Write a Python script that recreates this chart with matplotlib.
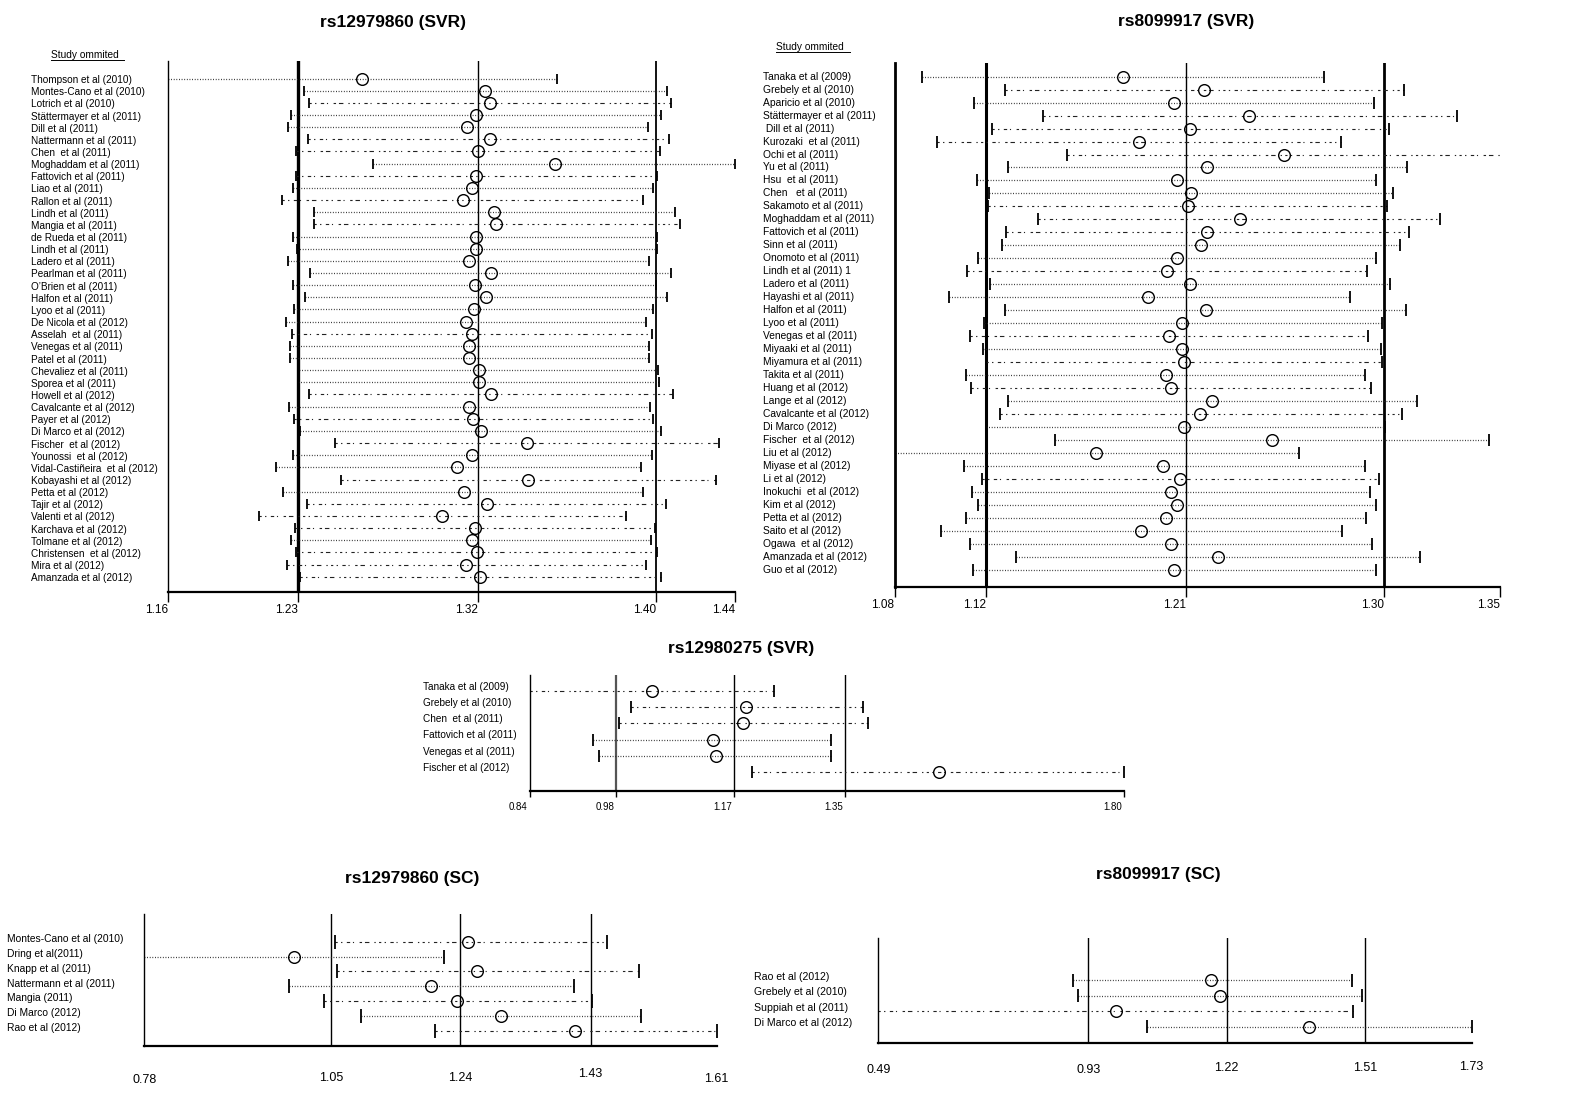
import matplotlib
matplotlib.use('Agg')
import matplotlib.pyplot as plt
import matplotlib.transforms as mtransforms
from matplotlib.lines import Line2D

W, H = 1587, 1102
plt.rcParams['font.family'] = ['Liberation Sans', 'DejaVu Sans']

# ---------------- data: rs12979860 (SVR) ----------------
TL_STUDIES = ["Thompson et al (2010)", "Montes-Cano et al (2010)", "Lotrich et al (2010)",
              "Stättermayer et al (2011)", "Dill et al (2011)", "Nattermann et al (2011)",
              "Chen  et al (2011)", "Moghaddam et al (2011)", "Fattovich et al (2011)",
              "Liao et al (2011)", "Rallon et al (2011)", "Lindh et al (2011)",
              "Mangia et al (2011)", "de Rueda et al (2011)", "Lindh et al (2011)",
              "Ladero et al (2011)", "Pearlman et al (2011)", "O’Brien et al (2011)",
              "Halfon et al (2011)", "Lyoo et al (2011)", "De Nicola et al (2012)",
              "Asselah  et al (2011)", "Venegas et al (2011)", "Patel et al (2011)",
              "Chevaliez et al (2011)", "Sporea et al (2011)", "Howell et al (2012)",
              "Cavalcante et al (2012)", "Payer et al (2012)", "Di Marco et al (2012)",
              "Fischer  et al (2012)", "Younossi  et al (2012)", "Vidal-Castiñeira  et al (2012)",
              "Kobayashi et al (2012)", "Petta et al (2012)", "Tajir et al (2012)",
              "Valenti et al (2012)", "Karchava et al (2012)", "Tolmane et al (2012)",
              "Christensen  et al (2012)", "Mira et al (2012)", "Amanzada et al (2012)"]
TL_LOWER = [1.155, 1.2268, 1.2296, 1.2205, 1.2191, 1.2292, 1.2229, 1.2612, 1.2231, 1.2215,
            1.2159, 1.2317, 1.2317, 1.2215, 1.2233, 1.2191, 1.2301, 1.2215, 1.2275, 1.2222,
            1.2182, 1.2210, 1.2201, 1.2201, 1.2243, 1.2240, 1.2294, 1.2196, 1.2219, 1.2252,
            1.2425, 1.2215, 1.2133, 1.2451, 1.2168, 1.2287, 1.2049, 1.2224, 1.2208, 1.2231,
            1.2187, 1.2252]
TL_OR = [1.2556, 1.3163, 1.3189, 1.3119, 1.3077, 1.3187, 1.3131, 1.3507, 1.3121, 1.3098,
         1.3056, 1.3206, 1.3217, 1.3117, 1.3121, 1.3084, 1.3192, 1.3114, 1.3168, 1.3107,
         1.3072, 1.3098, 1.3086, 1.3086, 1.3133, 1.3133, 1.3192, 1.3086, 1.3105, 1.3142,
         1.3369, 1.3100, 1.3026, 1.3376, 1.3061, 1.3173, 1.2951, 1.3114, 1.3098, 1.3124,
         1.3072, 1.3138]
TL_UPPER = [1.3519, 1.4063, 1.4082, 1.4033, 1.3967, 1.4073, 1.4030, 1.4400, 1.4014, 1.3991,
            1.3944, 1.4101, 1.4124, 1.4014, 1.4014, 1.3972, 1.4082, 1.4009, 1.4063, 1.3995,
            1.3960, 1.3986, 1.3972, 1.3974, 1.4016, 1.4021, 1.4094, 1.3979, 1.3995, 1.4033,
            1.4318, 1.3986, 1.3935, 1.4302, 1.3944, 1.4059, 1.3860, 1.4002, 1.3984, 1.4014,
            1.3960, 1.4033]
TL_POOLED = [1.2240, 1.3131, 1.4009]
TL_TICKS = [1.16, 1.2240, 1.3131, 1.4009, 1.44]
TL_TICKLABELS = ["1.16", "1.23", "1.32", "1.40", "1.44"]
TL_LINESTYLE = "oo-oo--o-o" "-o-ooooooo" "o-oooo-o-o" "-oo-o---o-" "--"

# ---------------- data: rs8099917 (SVR) ----------------
TR_STUDIES = ["Tanaka et al (2009)", "Grebely et al (2010)", "Aparicio et al (2010)",
              "Stättermayer et al (2011)", " Dill et al (2011)", "Kurozaki  et al (2011)",
              "Ochi et al (2011)", "Yu et al (2011)", "Hsu  et al (2011)", "Chen   et al (2011)",
              "Sakamoto et al (2011)", "Moghaddam et al (2011)", "Fattovich et al (2011)",
              "Sinn et al (2011)", "Onomoto et al (2011)", "Lindh et al (2011) 1",
              "Ladero et al (2011)", "Hayashi et al (2011)", "Halfon et al (2011)",
              "Lyoo et al (2011)", "Venegas et al (2011)", "Miyaaki et al (2011)",
              "Miyamura et al (2011)", "Takita et al (2011)", "Huang et al (2012)",
              "Lange et al (2012)", "Cavalcante et al (2012)", "Di Marco (2012)",
              "Fischer  et al (2012)", "Liu et al (2012)", "Miyase et al (2012)",
              "Li et al (2012)", "Inokuchi  et al (2012)", "Kim et al (2012)",
              "Petta et al (2012)", "Saito et al (2012)", "Ogawa  et al (2012)",
              "Amanzada et al (2012)", "Guo et al (2012)"]
TR_LOWER = [1.0923, 1.1291, 1.1155, 1.1463, 1.1236, 1.0989, 1.1568, 1.1306, 1.1170, 1.1221,
            1.1215, 1.1442, 1.1295, 1.1280, 1.1174, 1.1123, 1.1225, 1.1042, 1.1293, 1.1200,
            1.1136, 1.1195, 1.1206, 1.1119, 1.1142, 1.1304, 1.1272, 1.1206, 1.1516, 1.075,
            1.1110, 1.1189, 1.1144, 1.1172, 1.1121, 1.1008, 1.1136, 1.1340, 1.1151]
TR_OR = [1.1818, 1.2178, 1.2048, 1.2382, 1.2118, 1.1889, 1.2535, 1.2193, 1.2059, 1.2122,
         1.2107, 1.2339, 1.2193, 1.2165, 1.2059, 1.2016, 1.2118, 1.1931, 1.2188, 1.2084,
         1.2022, 1.2084, 1.2090, 1.2010, 1.2033, 1.2216, 1.2163, 1.2090, 1.2484, 1.1699,
         1.1999, 1.2073, 1.2031, 1.2059, 1.2010, 1.1901, 1.2031, 1.2244, 1.2048]
TR_UPPER = [1.2716, 1.3071, 1.2939, 1.3309, 1.3007, 1.2790, 1.3550, 1.3085, 1.2949, 1.3024,
            1.2996, 1.3232, 1.3092, 1.3056, 1.2949, 1.2905, 1.3011, 1.2830, 1.3083, 1.2975,
            1.2913, 1.2971, 1.2973, 1.2900, 1.2926, 1.3130, 1.3062, 1.2986, 1.3453, 1.2605,
            1.2900, 1.2962, 1.2920, 1.2949, 1.2903, 1.2794, 1.2928, 1.3145, 1.2947]
TR_POOLED = [1.1210, 1.2099, 1.2981]
TR_TICKS = [1.08, 1.1210, 1.2099, 1.2981, 1.35]
TR_TICKLABELS = ["1.08", "1.12", "1.21", "1.30", "1.35"]
TR_LINESTYLE = "o-o----ooo" "---oo-oooo" "-o-o-o-ooo" "o-ooooooo"

# ---------------- data: rs12980275 (SVR) ----------------
MID_STUDIES = ["Tanaka et al (2009)", "Grebely et al (2010)", "Chen  et al (2011)",
               "Fattovich et al (2011)", "Venegas et al (2011)", "Fischer et al (2012)"]
MID_LOWER = [0.83, 1.0029, 0.9840, 0.9418, 0.9516, 1.1990]
MID_OR = [1.0376, 1.1899, 1.1839, 1.1356, 1.1401, 1.5006]
MID_UPPER = [1.2344, 1.3784, 1.3867, 1.3271, 1.3271, 1.80]
MID_POOLED = [0.98, 1.17, 1.35]
MID_TICKS = [0.84, 0.98, 1.17, 1.35, 1.80]
MID_TICKLABELS = ["0.84", "0.98", "1.17", "1.35", "1.80"]
MID_LINESTYLE = "---oo-"

# ---------------- data: rs12979860 (SC) ----------------
BL_STUDIES = ["Montes-Cano et al (2010)", "Dring et al(2011)", "Knapp et al (2011)",
              "Nattermann et al (2011)", "Mangia (2011)", "Di Marco (2012)", "Rao et al (2012)"]
BL_LOWER = [1.0567, 0.77, 1.0594, 0.9894, 1.0409, 1.0944, 1.2008]
BL_OR = [1.2489, 0.9969, 1.2619, 1.1960, 1.2338, 1.2976, 1.4047]
BL_UPPER = [1.4514, 1.2139, 1.4967, 1.4033, 1.4294, 1.5001, 1.61]
BL_POOLED = [1.051, 1.238, 1.427]
BL_TICKS = [0.78, 1.051, 1.238, 1.427, 1.61]
BL_TICKLABELS = ["0.78", "1.05", "1.24", "1.43", "1.61"]
BL_LINESTYLE = "-o-o-o-"

# ---------------- data: rs8099917 (SC) ----------------
BR_STUDIES = ["Rao et al (2012)", "Grebely et al (2010)", "Suppiah et al (2011)",
              "Di Marco et al (2012)"]
BR_LOWER = [0.8966, 0.9077, 0.48, 1.0521]
BR_OR = [1.1862, 1.2045, 0.9860, 1.3895]
BR_UPPER = [1.4810, 1.5003, 1.4820, 1.73]
BR_POOLED = [0.929, 1.218, 1.507]
BR_TICKS = [0.49, 0.929, 1.218, 1.507, 1.73]
BR_TICKLABELS = ["0.49", "0.93", "1.22", "1.51", "1.73"]
BR_LINESTYLE = "oo-o"

fig = plt.figure(figsize=(W / 100, H / 100), dpi=100)
fig.patch.set_facecolor('white')

DOT = (0, (0.7, 1.4))
DASH = (0, (2.0, 3.0, 1.2, 4.0, 3.0, 2.5, 1.0, 5.0, 2.2, 2.6, 4.0, 4.5, 1.2, 3.0))


def fig_y(ypx):
    return 1 - ypx / H


def panel(box, studies, lo, est, hi, styles, pooled, ref_lws, ticks, ticklabels,
          first_row, row_step, label_x, label_dy, label_fs, tick_label_y, tick_fs,
          tick_len, left_lw, bar_half, title, title_xy, tick_ha='right', tick_dx=0,
          ref_colors=None):
    x0, x1, ytop, ybot = box
    ax = fig.add_axes([x0 / W, 1 - ybot / H, (x1 - x0) / W, (ybot - ytop) / H])
    ax.set_xlim(ticks[0], ticks[-1])
    ax.set_ylim(ybot, ytop)
    ax.patch.set_alpha(0)
    for s in ['top', 'right']:
        ax.spines[s].set_visible(False)
    ax.spines['left'].set_linewidth(left_lw)
    ax.spines['bottom'].set_linewidth(1.6)
    ax.set_yticks([])
    ax.set_xticks(ticks)
    ax.set_xticklabels([])
    ax.tick_params(axis='x', length=tick_len, width=1.0, direction='out')
    xmin, xmax = ticks[0], ticks[-1]
    if ref_colors is None:
        ref_colors = ['black'] * len(pooled)
    for r, lw, c in zip(pooled, ref_lws, ref_colors):
        ax.axvline(r, color=c, lw=lw, zorder=1)
    lab_tr = mtransforms.blended_transform_factory(fig.transFigure, ax.transData)
    for i, name in enumerate(studies):
        y = first_row + i * row_step
        a = max(lo[i], xmin)
        b = min(hi[i], xmax)
        if styles[i] == 'o':
            ax.plot([a, b], [y, y], color='#222222', lw=0.9, linestyle=DOT,
                    clip_on=False, zorder=2)
        else:
            ax.plot([a, b], [y, y], color='#222222', lw=0.8, linestyle=DASH,
                    clip_on=False, zorder=2)
        for v in (lo[i], hi[i]):
            if xmin <= v <= xmax:
                ax.plot([v, v], [y - bar_half, y + bar_half], color='black', lw=1.3,
                        clip_on=False, solid_capstyle='butt', zorder=3)
        ax.plot([est[i]], [y], marker='o', ms=8.4, mfc='none', mec='black',
                mew=1.0, clip_on=False, zorder=4)
        ax.text(label_x / W, y + label_dy, name, transform=lab_tr, fontsize=label_fs,
                va='center', ha='left')
    base = mtransforms.blended_transform_factory(ax.transData, fig.transFigure)
    tr = mtransforms.offset_copy(base, fig=fig, x=tick_dx, y=0, units='dots')
    if not isinstance(tick_label_y, (list, tuple)):
        tick_label_y = [tick_label_y] * len(ticks)
    for t, lab, ty in zip(ticks, ticklabels, tick_label_y):
        ax.text(t, fig_y(ty), lab, transform=tr, fontsize=tick_fs, ha=tick_ha, va='center')
    fig.text(title_xy[0] / W, fig_y(title_xy[1]), title, ha='center', va='center',
             fontsize=12.5, fontweight='bold')
    return ax


def study_header(x0, x1, y, yline):
    fig.text(x0 / W, fig_y(y), "Study ommited", fontsize=7.3, ha='left', va='center')
    fig.add_artist(Line2D([x0 / W, x1 / W], [fig_y(yline), fig_y(yline)],
                          transform=fig.transFigure, color='black', lw=0.7))


# rs12979860 (SVR)
panel((168.3, 735.4, 61, 592), TL_STUDIES, TL_LOWER, TL_OR, TL_UPPER, TL_LINESTYLE,
      TL_POOLED, [2.4, 1.0, 1.3], TL_TICKS, TL_TICKLABELS,
      first_row=78.6, row_step=(576.7 - 78.6) / 41, label_x=31, label_dy=1.5,
      label_fs=7.2, tick_label_y=610, tick_fs=8.5, tick_len=7, left_lw=1.0,
      bar_half=5, title="rs12979860 (SVR)", title_xy=(393, 23))
study_header(51, 124, 54.5, 59.5)

# rs8099917 (SVR)
panel((894.5, 1500, 62.7, 587.3), TR_STUDIES, TR_LOWER, TR_OR, TR_UPPER, TR_LINESTYLE,
      TR_POOLED, [2.2, 1.0, 2.0], TR_TICKS, TR_TICKLABELS,
      first_row=76.7, row_step=12.97, label_x=763, label_dy=0,
      label_fs=7.4, tick_label_y=605, tick_fs=8.5, tick_len=7, left_lw=2.0,
      bar_half=6, title="rs8099917 (SVR)", title_xy=(1186, 21.5))
study_header(776, 850, 47.3, 51.7)

# rs12980275 (SVR)
panel((529.8, 1124, 675, 790.7), MID_STUDIES, MID_LOWER, MID_OR, MID_UPPER, MID_LINESTYLE,
      MID_POOLED, [1.6, 1.0, 1.0], MID_TICKS, MID_TICKLABELS,
      first_row=691, row_step=16.2, label_x=423, label_dy=-4.3,
      label_fs=7.2, tick_label_y=806.7, tick_fs=7, tick_len=4, left_lw=1.0,
      bar_half=6, title="rs12980275 (SVR)", title_xy=(741, 649), tick_dx=-2,
      ref_colors=['#555555', 'black', 'black'])

# rs12979860 (SC)
panel((144.4, 716.7, 914.3, 1046.3), BL_STUDIES, BL_LOWER, BL_OR, BL_UPPER, BL_LINESTYLE,
      BL_POOLED, [1.0, 1.0, 1.0], BL_TICKS, BL_TICKLABELS,
      first_row=941.7, row_step=14.8, label_x=7, label_dy=-2.5,
      label_fs=7.4, tick_label_y=[1080, 1078, 1078, 1074, 1079], tick_fs=9,
      tick_len=0, left_lw=1.0, bar_half=7, title="rs12979860 (SC)",
      title_xy=(412, 879), tick_ha='center')

# rs8099917 (SC)
panel((878.3, 1471.5, 938.3, 1042.7), BR_STUDIES, BR_LOWER, BR_OR, BR_UPPER, BR_LINESTYLE,
      BR_POOLED, [1.0, 1.0, 1.0], BR_TICKS, BR_TICKLABELS,
      first_row=980, row_step=15.6, label_x=754, label_dy=-3.3,
      label_fs=7.6, tick_label_y=[1070, 1070, 1068, 1068, 1066.7], tick_fs=9,
      tick_len=0, left_lw=1.0, bar_half=6.5, title="rs8099917 (SC)",
      title_xy=(1158, 874), tick_ha='center')

fig.savefig('out.png', dpi=100, facecolor='white')
